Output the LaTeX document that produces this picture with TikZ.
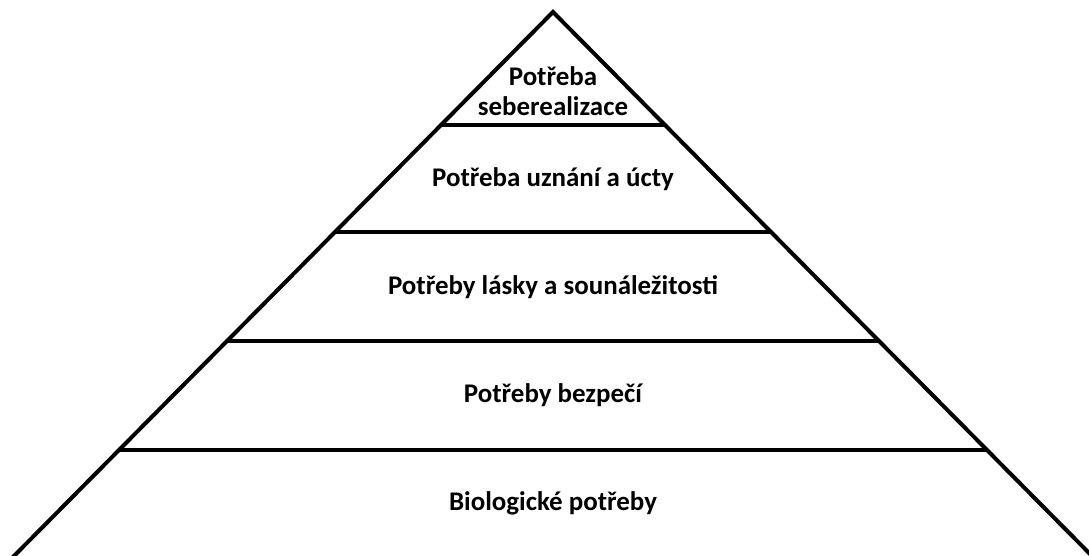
\documentclass[tikz,border=0pt]{standalone}
\usepackage{fontspec}
\setmainfont{Carlito}
\usetikzlibrary{calc}
\begin{document}
\begin{tikzpicture}[x=0.75pt,y=-0.75pt,
  edge/.style={line width=3pt,black},
  level/.style={font=\bfseries\fontsize{20.2}{23}\selectfont,align=center,inner sep=0pt}]
\useasboundingbox (0,0) rectangle (1089,556);
\clip (0,0) rectangle (1089,556);
\coordinate (apex) at (553,12);
\coordinate (bl) at (14,556);
\coordinate (br) at (1092,556);
\draw[edge,line join=miter] ($(apex)!1.05!(bl)$) -- (apex) -- ($(apex)!1.05!(br)$);
\foreach \y/\n in {125/a,232/b,341/c,450/d}{
  \pgfmathsetmacro{\t}{(\y-12)/544}
  \coordinate (l\n) at ($(apex)!\t!(bl)$);
  \coordinate (r\n) at ($(apex)!\t!(br)$);
  \draw[edge] (l\n) -- (r\n);
}
\node[level] (t1) at (553,91) {Potřeba\\[-1pt]seberealizace};
\node[level] (t2) at (553,179) {Potřeba uznání a úcty};
\node[level] (t3) at (553,287) {Potřeby lásky a sounáležitosti};
\node[level] (t4) at (553,395) {Potřeby bezpečí};
\node[level] (t5) at (553,503) {Biologické potřeby};
\end{tikzpicture}
\end{document}
